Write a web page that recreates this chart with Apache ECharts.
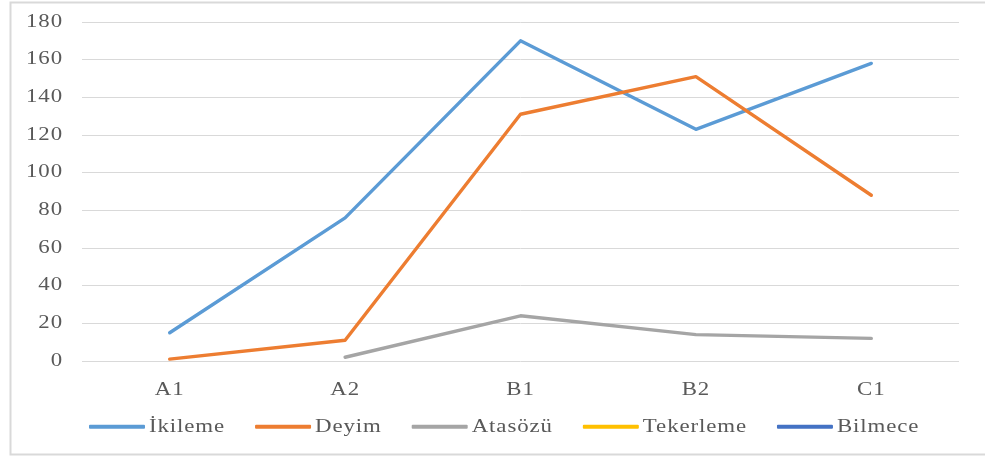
<!DOCTYPE html>
<html><head><meta charset="utf-8">
<script src="https://cdn.jsdelivr.net/npm/echarts@6/dist/echarts.min.js"></script>
<style>html,body{margin:0;padding:0;background:#fff}#c{width:985px;height:457px}</style>
</head><body><div id="c"></div>
<script>
var categories = ['A1', 'A2', 'B1', 'B2', 'C1'];
var seriesNames = ['İkileme', 'Deyim', 'Atasözü', 'Tekerleme', 'Bilmece'];
var ikileme = [15, 76, 170, 123, 158];
var deyim = [1, 11, 131, 151, 88];
var atasozu = [null, 2, 24, 14, 12];
var tekerleme = [null, null, null, null, null];
var bilmece = [null, null, null, null, null];
var colors = ['#5B9BD5', '#ED7D31', '#A5A5A5', '#FFC000', '#4472C4'];
var yTicks = { min: 0, max: 180, interval: 20 };

// the reference's serif lettering is horizontally stretched and slightly spaced
(function () {
  var SX = 1.27, LS = '0.7px';
  var P = CanvasRenderingContext2D.prototype;
  var ft = P.fillText, mt = P.measureText;
  P.fillText = function (t, x, y) {
    this.save();
    try { this.letterSpacing = LS; } catch (e) {}
    this.translate(x, y);
    this.scale(SX, 1);
    var r = ft.call(this, t, 0, 0);
    this.restore();
    return r;
  };
  P.measureText = function (t) {
    try { this.letterSpacing = LS; } catch (e) {}
    var m = mt.call(this, t);
    return {
      width: m.width * SX,
      actualBoundingBoxLeft: m.actualBoundingBoxLeft * SX,
      actualBoundingBoxRight: m.actualBoundingBoxRight * SX,
      actualBoundingBoxAscent: m.actualBoundingBoxAscent,
      actualBoundingBoxDescent: m.actualBoundingBoxDescent,
      fontBoundingBoxAscent: m.fontBoundingBoxAscent,
      fontBoundingBoxDescent: m.fontBoundingBoxDescent
    };
  };
})();

var dataSets = [ikileme, deyim, atasozu, tekerleme, bilmece];
var font = 'Liberation Serif, Times New Roman, serif';
var chart = echarts.init(document.getElementById('c'));
chart.setOption({
  animation: false,
  color: colors,
  graphic: [{
    type: 'rect', left: 8, top: 0, shape: { width: 990, height: 452 },
    style: { fill: 'none', stroke: '#d9d9d9', lineWidth: 2 }, silent: true
  }],
  grid: { left: 82, right: 26, top: 22, bottom: 96, containLabel: false },
  legend: {
    top: 415, left: 89, padding: 0, itemWidth: 56, itemHeight: 4, itemGap: 30,
    icon: 'roundRect',
    textStyle: { fontFamily: font, fontSize: 18, color: '#595959', padding: [0, 0, 0, -1] },
    data: seriesNames
  },
  xAxis: {
    type: 'category', data: categories, boundaryGap: true,
    axisLine: { show: false }, axisTick: { show: false },
    axisLabel: { fontFamily: font, fontSize: 18, color: '#595959', margin: 17 }
  },
  yAxis: {
    type: 'value', min: yTicks.min, max: yTicks.max, interval: yTicks.interval,
    axisLine: { show: false }, axisTick: { show: false },
    splitLine: { lineStyle: { color: '#d9d9d9', width: 1 } },
    axisLabel: { fontFamily: font, fontSize: 18, color: '#595959', margin: 19 }
  },
  series: seriesNames.map(function (n, i) {
    return {
      name: n, type: 'line', data: dataSets[i], showSymbol: false, symbol: 'none',
      connectNulls: false,
      lineStyle: { width: 3.4, color: colors[i], cap: 'round', join: 'round' },
      itemStyle: { color: colors[i] }
    };
  })
});
</script></body></html>
